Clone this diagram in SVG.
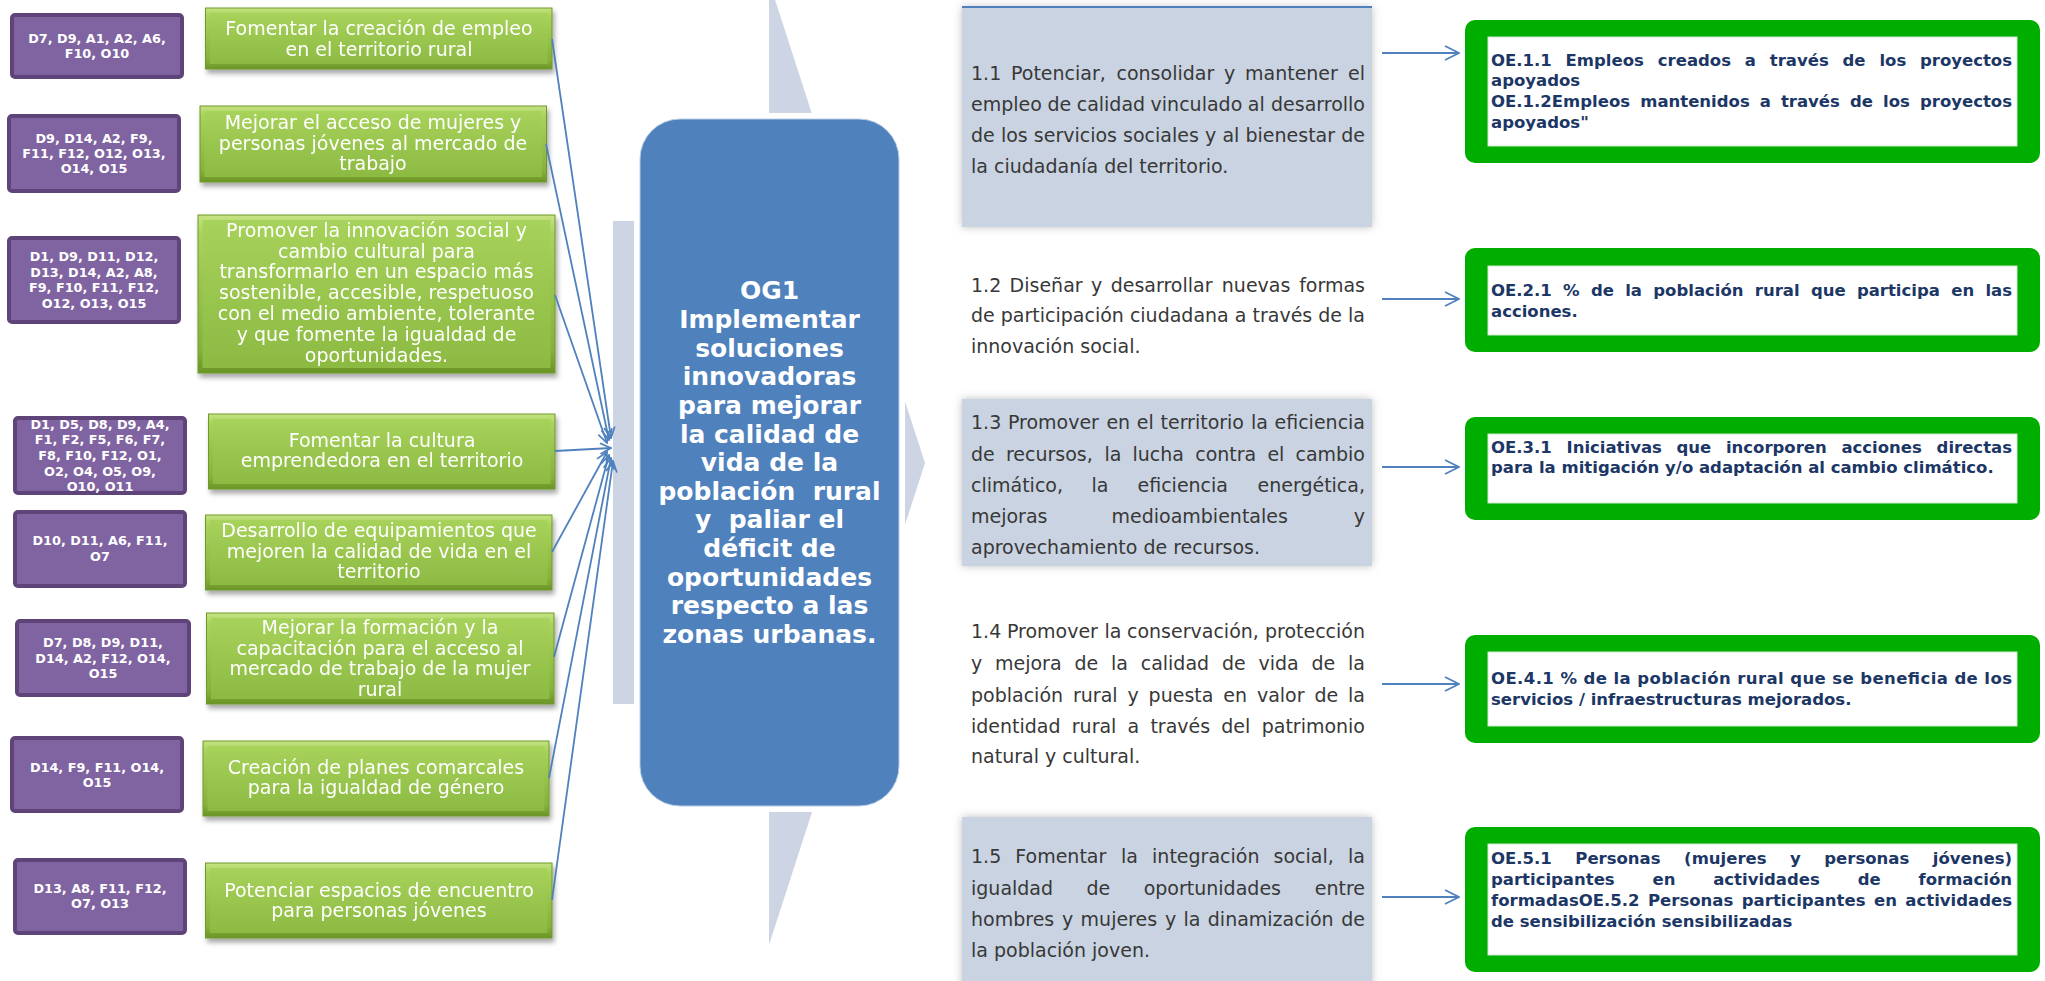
<svg xmlns="http://www.w3.org/2000/svg" width="2045" height="981" viewBox="0 0 2045 981">
<style>
.pt{font-family:"DejaVu Sans",sans-serif;font-weight:bold;font-size:12.8px;fill:#fff;text-anchor:middle}
.gt{font-family:"DejaVu Sans",sans-serif;font-size:19px;fill:#fff;text-anchor:middle}
.bt{font-family:"DejaVu Sans",sans-serif;font-weight:bold;font-size:25px;fill:#fff;text-anchor:middle;white-space:pre}
.mt{font-family:"DejaVu Sans",sans-serif;font-size:19px;fill:#383838}
.ot{font-family:"DejaVu Sans",sans-serif;font-weight:bold;font-size:16.5px;fill:#1C3766}
.e{text-anchor:end}
.pb{fill:#8064A2;stroke:#5E4479;stroke-width:4}
.go{fill:url(#gOuter);stroke:#6E9A2C;stroke-width:1}
.gi{fill:url(#gInner)}
.gb{fill:#C9D3E1}
.oeo{fill:#00AE00}
.oei{fill:#fff;stroke:#cfe8cf;stroke-width:1}
.con{fill:none;stroke:#4F81BD;stroke-width:1.8}
</style>
<defs>
<linearGradient id="gOuter" x1="0" y1="0" x2="0" y2="1">
<stop offset="0" stop-color="#C6E384"/><stop offset="0.12" stop-color="#A9D35D"/><stop offset="0.85" stop-color="#86B23A"/><stop offset="1" stop-color="#6A9427"/>
</linearGradient>
<linearGradient id="gInner" x1="0" y1="0" x2="0" y2="1">
<stop offset="0" stop-color="#A7D25B"/><stop offset="1" stop-color="#8CBA42"/>
</linearGradient>
<filter id="sh" x="-10%" y="-20%" width="125%" height="150%">
<feDropShadow dx="2" dy="4" stdDeviation="2.5" flood-color="#000" flood-opacity="0.35"/>
</filter>
<filter id="sh2" x="-10%" y="-10%" width="120%" height="120%">
<feDropShadow dx="0" dy="0" stdDeviation="4" flood-color="#7f7f7f" flood-opacity="0.5"/>
</filter>
<marker id="ah" viewBox="0 0 12 12" refX="11" refY="6" markerWidth="13" markerHeight="13" markerUnits="userSpaceOnUse" orient="auto">
<path d="M1,1 L11,6 L1,11" fill="none" stroke="#4F81BD" stroke-width="1.6"/>
</marker>
<marker id="ah2" viewBox="0 0 16 16" refX="15" refY="8" markerWidth="16" markerHeight="16" markerUnits="userSpaceOnUse" orient="auto">
<path d="M1,1 L15,8 L1,15" fill="none" stroke="#4F81BD" stroke-width="1.8"/>
</marker>
</defs>
<rect width="2045" height="981" fill="#fff"/>

<g id="bg-arrow">
<polygon points="613,221 769,221 769,-19 925,463 769,945 769,704 613,704" fill="#CDD5E4"/>
</g>

<g id="purple-boxes">
<g id="p1"><rect class="pb" x="12" y="15" width="170" height="62" rx="3"/>
<text class="pt" x="97" y="43">D7, D9, A1, A2, A6,</text><text class="pt" x="97" y="58">F10, O10</text></g>
<g id="p2"><rect class="pb" x="9" y="116" width="170" height="75" rx="3"/>
<text class="pt" x="94" y="143">D9, D14, A2, F9,</text><text class="pt" x="94" y="158">F11, F12, O12, O13,</text><text class="pt" x="94" y="173">O14, O15</text></g>
<g id="p3"><rect class="pb" x="9" y="238" width="170" height="84" rx="3"/>
<text class="pt" x="94" y="261">D1, D9, D11, D12,</text><text class="pt" x="94" y="277">D13, D14, A2, A8,</text><text class="pt" x="94" y="292">F9, F10, F11, F12,</text><text class="pt" x="94" y="308">O12, O13, O15</text></g>
<g id="p4"><rect class="pb" x="15" y="418" width="170" height="75" rx="3"/>
<text class="pt" x="100" y="429">D1, D5, D8, D9, A4,</text><text class="pt" x="100" y="444">F1, F2, F5, F6, F7,</text><text class="pt" x="100" y="460">F8, F10, F12, O1,</text><text class="pt" x="100" y="476">O2, O4, O5, O9,</text><text class="pt" x="100" y="491">O10, O11</text></g>
<g id="p5"><rect class="pb" x="15" y="512" width="170" height="74" rx="3"/>
<text class="pt" x="100" y="545">D10, D11, A6, F11,</text><text class="pt" x="100" y="561">O7</text></g>
<g id="p6"><rect class="pb" x="17" y="621" width="172" height="74" rx="3"/>
<text class="pt" x="103" y="647">D7, D8, D9, D11,</text><text class="pt" x="103" y="663">D14, A2, F12, O14,</text><text class="pt" x="103" y="678">O15</text></g>
<g id="p7"><rect class="pb" x="12" y="738" width="170" height="73" rx="3"/>
<text class="pt" x="97" y="772">D14, F9, F11, O14,</text><text class="pt" x="97" y="787">O15</text></g>
<g id="p8"><rect class="pb" x="15" y="860" width="170" height="73" rx="3"/>
<text class="pt" x="100" y="893">D13, A8, F11, F12,</text><text class="pt" x="100" y="908">O7, O13</text></g>
</g>

<g id="green-boxes">
<g id="g1" filter="url(#sh)"><rect class="go" x="205.5" y="8" width="346.5" height="61"/><rect class="gi" x="210" y="13" width="337.5" height="51"/>
<text class="gt" x="379" y="35">Fomentar la creación de empleo</text><text class="gt" x="379" y="56">en el territorio rural</text></g>
<g id="g2" filter="url(#sh)"><rect class="go" x="200" y="106" width="346.5" height="76"/><rect class="gi" x="204.5" y="111" width="337.5" height="66"/>
<text class="gt" x="373" y="129">Mejorar el acceso de mujeres y</text><text class="gt" x="373" y="150">personas jóvenes al mercado de</text><text class="gt" x="373" y="170">trabajo</text></g>
<g id="g3" filter="url(#sh)"><rect class="go" x="198" y="215" width="357" height="158"/><rect class="gi" x="202.5" y="220" width="348" height="148"/>
<text class="gt" x="376.5" y="237">Promover la innovación social y</text><text class="gt" x="376.5" y="258">cambio cultural para</text><text class="gt" x="376.5" y="278">transformarlo en un espacio más</text><text class="gt" x="376.5" y="299">sostenible, accesible, respetuoso</text><text class="gt" x="376.5" y="320">con el medio ambiente, tolerante</text><text class="gt" x="376.5" y="341">y que fomente la igualdad de</text><text class="gt" x="376.5" y="362">oportunidades.</text></g>
<g id="g4" filter="url(#sh)"><rect class="go" x="208.5" y="414" width="346.5" height="75"/><rect class="gi" x="213" y="419" width="337.5" height="65"/>
<text class="gt" x="382" y="447">Fomentar la cultura</text><text class="gt" x="382" y="467">emprendedora en el territorio</text></g>
<g id="g5" filter="url(#sh)"><rect class="go" x="205.5" y="515" width="346.5" height="75"/><rect class="gi" x="210" y="520" width="337.5" height="65"/>
<text class="gt" x="379" y="537">Desarrollo de equipamientos que</text><text class="gt" x="379" y="558">mejoren la calidad de vida en el</text><text class="gt" x="379" y="578">territorio</text></g>
<g id="g6" filter="url(#sh)"><rect class="go" x="206.5" y="613" width="347.5" height="91"/><rect class="gi" x="211" y="618" width="338.5" height="81"/>
<text class="gt" x="380" y="634">Mejorar la formación y la</text><text class="gt" x="380" y="655">capacitación para el acceso al</text><text class="gt" x="380" y="675">mercado de trabajo de la mujer</text><text class="gt" x="380" y="696">rural</text></g>
<g id="g7" filter="url(#sh)"><rect class="go" x="203" y="741" width="346" height="75"/><rect class="gi" x="207.5" y="746" width="337" height="65"/>
<text class="gt" x="376" y="774">Creación de planes comarcales</text><text class="gt" x="376" y="794">para la igualdad de género</text></g>
<g id="g8" filter="url(#sh)"><rect class="go" x="205.5" y="863" width="346.5" height="75"/><rect class="gi" x="210" y="868" width="337.5" height="65"/>
<text class="gt" x="379" y="897">Potenciar espacios de encuentro</text><text class="gt" x="379" y="917">para personas jóvenes</text></g>
</g>

<g id="connectors">
<line class="con" x1="552" y1="39" x2="611" y2="438" marker-end="url(#ah)"/>
<line class="con" x1="546" y1="144" x2="609" y2="440" marker-end="url(#ah)"/>
<line class="con" x1="555" y1="295" x2="607" y2="443" marker-end="url(#ah)"/>
<line class="con" x1="555" y1="451" x2="611" y2="448" marker-end="url(#ah)"/>
<line class="con" x1="552" y1="552" x2="607" y2="452" marker-end="url(#ah)"/>
<line class="con" x1="554" y1="657" x2="609" y2="455" marker-end="url(#ah)"/>
<line class="con" x1="549" y1="778" x2="611" y2="458" marker-end="url(#ah)"/>
<line class="con" x1="552" y1="900" x2="613" y2="461" marker-end="url(#ah)"/>
<line class="con" x1="1382" y1="53" x2="1459" y2="53" marker-end="url(#ah2)"/>
<line class="con" x1="1382" y1="299" x2="1459" y2="299" marker-end="url(#ah2)"/>
<line class="con" x1="1382" y1="467" x2="1459" y2="467" marker-end="url(#ah2)"/>
<line class="con" x1="1382" y1="684" x2="1459" y2="684" marker-end="url(#ah2)"/>
<line class="con" x1="1382" y1="897" x2="1459" y2="897" marker-end="url(#ah2)"/>
</g>

<g id="og1">
<rect x="634" y="113" width="271" height="699" rx="46" fill="#fff"/>
<rect x="640" y="119" width="259" height="687" rx="40" fill="#4F81BD" stroke="#B8CCE4" stroke-width="1"/>
<text class="bt" x="769.5" y="299">OG1</text>
<text class="bt" x="769.5" y="328">Implementar</text>
<text class="bt" x="769.5" y="356.5">soluciones</text>
<text class="bt" x="769.5" y="385">innovadoras</text>
<text class="bt" x="769.5" y="414">para mejorar</text>
<text class="bt" x="769.5" y="442.5">la calidad de</text>
<text class="bt" x="769.5" y="471">vida de la</text>
<text class="bt" x="769.5" y="500">población  rural</text>
<text class="bt" x="769.5" y="528">y  paliar el</text>
<text class="bt" x="769.5" y="557">déficit de</text>
<text class="bt" x="769.5" y="586">oportunidades</text>
<text class="bt" x="769.5" y="614">respecto a las</text>
<text class="bt" x="769.5" y="643">zonas urbanas.</text>
</g>

<g id="obj-1-1">
<rect class="gb" x="962" y="7" width="410" height="220" filter="url(#sh2)"/>
<line x1="962" y1="7" x2="1372" y2="7" stroke="#4F81BD" stroke-width="2"/>
<text class="mt" y="80"><tspan x="971">1.1</tspan><tspan x="1011">Potenciar,</tspan><tspan x="1116.5">consolidar</tspan><tspan x="1224">y</tspan><tspan x="1245">mantener</tspan><tspan class="e" x="1365">el</tspan></text>
<text class="mt" y="111"><tspan x="971">empleo</tspan><tspan x="1047.4">de</tspan><tspan x="1076.7">calidad</tspan><tspan x="1150.6">vinculado</tspan><tspan x="1247.8">al</tspan><tspan class="e" x="1365">desarrollo</tspan></text>
<text class="mt" y="142"><tspan x="971">de</tspan><tspan x="1000.9">los</tspan><tspan x="1033.8">servicios</tspan><tspan x="1123.1">sociales</tspan><tspan x="1205.1">y</tspan><tspan x="1222.4">al</tspan><tspan x="1245.5">bienestar</tspan><tspan class="e" x="1365">de</tspan></text>
<text class="mt" x="971" y="173">la ciudadanía del territorio.</text>
</g>

<g id="obj-1-2">
<text class="mt" y="292"><tspan x="971">1.2</tspan><tspan x="1009.6">Diseñar</tspan><tspan x="1091.1">y</tspan><tspan x="1110.7">desarrollar</tspan><tspan x="1221.8">nuevas</tspan><tspan class="e" x="1365">formas</tspan></text>
<text class="mt" y="322"><tspan x="971">de</tspan><tspan x="1000.8">participación</tspan><tspan x="1129.9">ciudadana</tspan><tspan x="1234.8">a</tspan><tspan x="1252.5">través</tspan><tspan x="1318.2">de</tspan><tspan class="e" x="1365">la</tspan></text>
<text class="mt" x="971" y="353">innovación social.</text>
</g>

<g id="obj-1-3">
<rect class="gb" x="962" y="399" width="410" height="167" filter="url(#sh2)"/>
<text class="mt" y="429"><tspan x="971">1.3</tspan><tspan x="1007.9">Promover</tspan><tspan x="1106.4">en</tspan><tspan x="1136.8">el</tspan><tspan x="1160.5">territorio</tspan><tspan x="1251">la</tspan><tspan class="e" x="1365">eficiencia</tspan></text>
<text class="mt" y="461"><tspan x="971">de</tspan><tspan x="1005.9">recursos,</tspan><tspan x="1104.4">la</tspan><tspan x="1132.5">lucha</tspan><tspan x="1195.2">contra</tspan><tspan x="1267.4">el</tspan><tspan class="e" x="1365">cambio</tspan></text>
<text class="mt" y="492"><tspan x="971">climático,</tspan><tspan x="1091.6">la</tspan><tspan x="1137.5">eficiencia</tspan><tspan class="e" x="1365">energética,</tspan></text>
<text class="mt" y="523"><tspan x="971">mejoras</tspan><tspan x="1111.5">medioambientales</tspan><tspan class="e" x="1365">y</tspan></text>
<text class="mt" x="971" y="554">aprovechamiento de recursos.</text>
</g>

<g id="obj-1-4">
<text class="mt" y="638"><tspan x="971">1.4</tspan><tspan x="1006.9">Promover</tspan><tspan x="1104.4">la</tspan><tspan x="1127">conservación,</tspan><tspan class="e" x="1365">protección</tspan></text>
<text class="mt" y="670"><tspan x="971">y</tspan><tspan x="995">mejora</tspan><tspan x="1074.4">de</tspan><tspan x="1111">la</tspan><tspan x="1140.7">calidad</tspan><tspan x="1221.9">de</tspan><tspan x="1258.5">vida</tspan><tspan x="1311.5">de</tspan><tspan class="e" x="1365">la</tspan></text>
<text class="mt" y="702"><tspan x="971">población</tspan><tspan x="1073">rural</tspan><tspan x="1127.5">y</tspan><tspan x="1148.6">puesta</tspan><tspan x="1223.3">en</tspan><tspan x="1256.9">valor</tspan><tspan x="1314.4">de</tspan><tspan class="e" x="1365">la</tspan></text>
<text class="mt" y="733"><tspan x="971">identidad</tspan><tspan x="1071.8">rural</tspan><tspan x="1127.6">a</tspan><tspan x="1150.4">través</tspan><tspan x="1221.3">del</tspan><tspan class="e" x="1365">patrimonio</tspan></text>
<text class="mt" x="971" y="763">natural y cultural.</text>
</g>

<g id="obj-1-5">
<rect class="gb" x="962" y="817" width="410" height="175" filter="url(#sh2)"/>
<text class="mt" y="863"><tspan x="971">1.5</tspan><tspan x="1015.3">Fomentar</tspan><tspan x="1121.1">la</tspan><tspan x="1152.1">integración</tspan><tspan x="1273.6">social,</tspan><tspan class="e" x="1365">la</tspan></text>
<text class="mt" y="895"><tspan x="971">igualdad</tspan><tspan x="1086.5">de</tspan><tspan x="1143.7">oportunidades</tspan><tspan class="e" x="1365">entre</tspan></text>
<text class="mt" y="926"><tspan x="971">hombres</tspan><tspan x="1062">y</tspan><tspan x="1080.6">mujeres</tspan><tspan x="1164.9">y</tspan><tspan x="1183.5">la</tspan><tspan x="1207.8">dinamización</tspan><tspan class="e" x="1365">de</tspan></text>
<text class="mt" x="971" y="957">la población joven.</text>
</g>

<g id="oe1">
<rect class="oeo" x="1465" y="20" width="575" height="143" rx="10"/>
<rect class="oei" x="1488" y="37" width="529" height="109"/>
<text class="ot" y="66"><tspan x="1491">OE.1.1</tspan><tspan x="1565.6">Empleos</tspan><tspan x="1657.8">creados</tspan><tspan x="1744.8">a</tspan><tspan x="1769.8">través</tspan><tspan x="1842.5">de</tspan><tspan x="1879.4">los</tspan><tspan class="e" x="2012">proyectos</tspan></text>
<text class="ot" x="1491" y="86">apoyados</text>
<text class="ot" y="107"><tspan x="1491">OE.1.2Empleos</tspan><tspan x="1640.2">mantenidos</tspan><tspan x="1759.7">a</tspan><tspan x="1780.9">través</tspan><tspan x="1849.9">de</tspan><tspan x="1883">los</tspan><tspan class="e" x="2012">proyectos</tspan></text>
<text class="ot" x="1491" y="128">apoyados"</text>
</g>

<g id="oe2">
<rect class="oeo" x="1465" y="248" width="575" height="104" rx="10"/>
<rect class="oei" x="1488" y="266" width="529" height="69"/>
<text class="ot" y="296"><tspan x="1491">OE.2.1</tspan><tspan x="1563.1">%</tspan><tspan x="1590.9">de</tspan><tspan x="1625.2">la</tspan><tspan x="1653.3">población</tspan><tspan x="1754.8">rural</tspan><tspan x="1810.9">que</tspan><tspan x="1856.9">participa</tspan><tspan x="1951.2">en</tspan><tspan class="e" x="2012">las</tspan></text>
<text class="ot" x="1491" y="317">acciones.</text>
</g>

<g id="oe3">
<rect class="oeo" x="1465" y="417" width="575" height="103" rx="10"/>
<rect class="oei" x="1488" y="434" width="529" height="69"/>
<text class="ot" y="453"><tspan x="1491">OE.3.1</tspan><tspan x="1566.5">Iniciativas</tspan><tspan x="1676.5">que</tspan><tspan x="1725.9">incorporen</tspan><tspan x="1841.4">acciones</tspan><tspan class="e" x="2012">directas</tspan></text>
<text class="ot" x="1491" y="473">para la mitigación y/o adaptación al cambio climático.</text>
</g>

<g id="oe4">
<rect class="oeo" x="1465" y="635" width="575" height="108" rx="10"/>
<rect class="oei" x="1488" y="652" width="529" height="74"/>
<text class="ot" x="1491" y="684" textLength="521" lengthAdjust="spacing">OE.4.1 % de la población rural que se beneficia de los</text>
<text class="ot" x="1491" y="705">servicios / infraestructuras mejorados.</text>
</g>

<g id="oe5">
<rect class="oeo" x="1465" y="827" width="575" height="145" rx="10"/>
<rect class="oei" x="1488" y="844" width="529" height="111"/>
<text class="ot" y="864"><tspan x="1491">OE.5.1</tspan><tspan x="1575.3">Personas</tspan><tspan x="1684.1">(mujeres</tspan><tspan x="1790.1">y</tspan><tspan x="1824.3">personas</tspan><tspan class="e" x="2012">jóvenes)</tspan></text>
<text class="ot" y="885"><tspan x="1491">participantes</tspan><tspan x="1652.5">en</tspan><tspan x="1713.2">actividades</tspan><tspan x="1857.7">de</tspan><tspan class="e" x="2012">formación</tspan></text>
<text class="ot" y="906"><tspan x="1491">formadasOE.5.2</tspan><tspan x="1648">Personas</tspan><tspan x="1741.8">participantes</tspan><tspan x="1874">en</tspan><tspan class="e" x="2012">actividades</tspan></text>
<text class="ot" x="1491" y="927">de sensibilización sensibilizadas</text>
</g>
</svg>
